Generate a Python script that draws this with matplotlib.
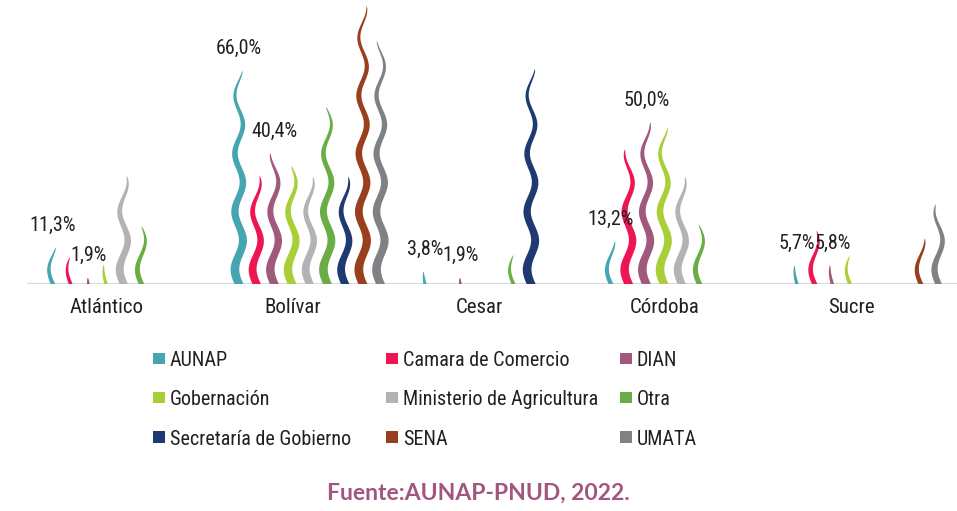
import numpy as np
import matplotlib
matplotlib.use("Agg")
import matplotlib.pyplot as plt
from matplotlib.patches import Rectangle

# ---------------- datos ----------------
categorias = ["Atlántico", "Bolívar", "Cesar", "Córdoba", "Sucre"]
series = ["AUNAP", "Camara de Comercio", "DIAN", "Gobernación",
          "Ministerio de Agricultura", "Otra", "Secretaría de Gobierno", "SENA", "UMATA"]
aunap       = [11.3, 66.0, 3.8, 13.2, 5.7]
camara      = [8.2, 33.4, 0.0, 41.6, 16.4]
dian        = [1.9, 40.4, 1.9, 50.0, 5.8]
gobernacion = [5.9, 36.5, 0.0, 48.3, 8.6]
ministerio  = [33.4, 33.1, 0.0, 33.1, 0.0]
otra        = [17.8, 54.8, 8.9, 18.4, 0.0]
secretaria  = [0.0, 33.1, 66.5, 0.0, 0.0]
sena        = [0.0, 86.0, 0.0, 0.0, 14.0]
umata       = [0.0, 75.2, 0.0, 0.0, 24.6]
valores = [aunap, camara, dian, gobernacion, ministerio, otra, secretaria, sena, umata]
etiquetadas = {0: aunap, 2: dian}   # solo AUNAP y DIAN llevan etiqueta

colores = ["#45a6b1", "#ee1652", "#a0587d", "#a9cf38", "#b3b3b3",
           "#6aad45", "#1e3a70", "#983f1e", "#808184"]
FUENTE_COLOR = "#a2567f"

# ---------------- figura ----------------
W, H, DPI = 957, 511, 100
fig = plt.figure(figsize=(W / DPI, H / DPI), dpi=DPI, facecolor="white")
BASE_PX, TOP_PX, LEFT_PX = 284, 2.5, 27
ax = fig.add_axes([LEFT_PX / W, 1 - BASE_PX / H, 1 - LEFT_PX / W, (BASE_PX - TOP_PX) / H])
YMAX = (BASE_PX - TOP_PX) / 3.236
ax.set_xlim(-0.5, len(categorias) - 0.5)
ax.set_ylim(0, YMAX)
ux = len(categorias) / (W - LEFT_PX)      # unidades-x por pixel
uy = YMAX / (BASE_PX - TOP_PX)            # unidades-y por pixel

# fuente estrecha (la original es condensada)
TXT = dict(family=["Roboto Condensed", "DejaVu Sans"], color="#231f20")
paso = 17.7 * ux

def onda(x0, h, color):
    hp = h / uy                           # altura en px
    if hp <= 0:
        return
    y = np.linspace(0, hp, 120)
    amp = 4.0 * min(1.0, hp / 30)
    xc = -amp * np.sin(2 * np.pi * y / 58)
    w0 = min(9.0, 2.5 + 0.055 * hp)
    hw = w0 / 2 * (1 - y / hp) ** 0.5
    xs = np.concatenate([xc - hw, (xc + hw)[::-1]]) * ux + x0
    ys = np.concatenate([y, y[::-1]]) * uy
    ax.fill(xs, ys, color=color, lw=0, zorder=3, clip_on=False)

for i, (vals, c) in enumerate(zip(valores, colores)):
    for j, v in enumerate(vals):
        x0 = j + (i - 4) * paso + 0.02
        onda(x0, v, c)
        if i in etiquetadas and v > 0:
            ax.annotate(f"{v:.1f}%".replace(".", ","), (x0, v), xytext=(0, 12),
                        textcoords="offset points", ha="center", va="baseline",
                        fontsize=14.5, zorder=5, **TXT)

ax.axhline(0, color="#d9dcde", lw=1.6, zorder=2)
for s in ax.spines.values():
    s.set_visible(False)
ax.set_yticks([])
ax.set_xticks(np.arange(len(categorias)) - 0.07)
ax.set_xticklabels(categorias)
for t in ax.get_xticklabels():
    t.set(fontsize=15, **TXT)
ax.tick_params(axis="x", length=0, pad=10)

# leyenda manual (3 columnas)
cols_px = [153, 386, 620]
filas_px = [358.5, 397.5, 437]
for i, (nom, c) in enumerate(zip(series, colores)):
    cx, cy = cols_px[i % 3], filas_px[i // 3]
    fig.patches.append(Rectangle((cx / W, 1 - (cy + 5.5) / H), 11.5 / W, 11.5 / H,
                                 transform=fig.transFigure, fc=c, ec="none"))
    fig.text((cx + 17) / W, 1 - cy / H, nom, ha="left", va="center_baseline",
             fontsize=14.5, **TXT)

fig.text(478 / W, 1 - 493 / H, "Fuente:AUNAP-PNUD, 2022.", ha="center", va="center",
         fontsize=16.5, fontweight="bold", color=FUENTE_COLOR, family=["Lato", "DejaVu Sans"])

fig.savefig("out.png", dpi=DPI, facecolor="white")
